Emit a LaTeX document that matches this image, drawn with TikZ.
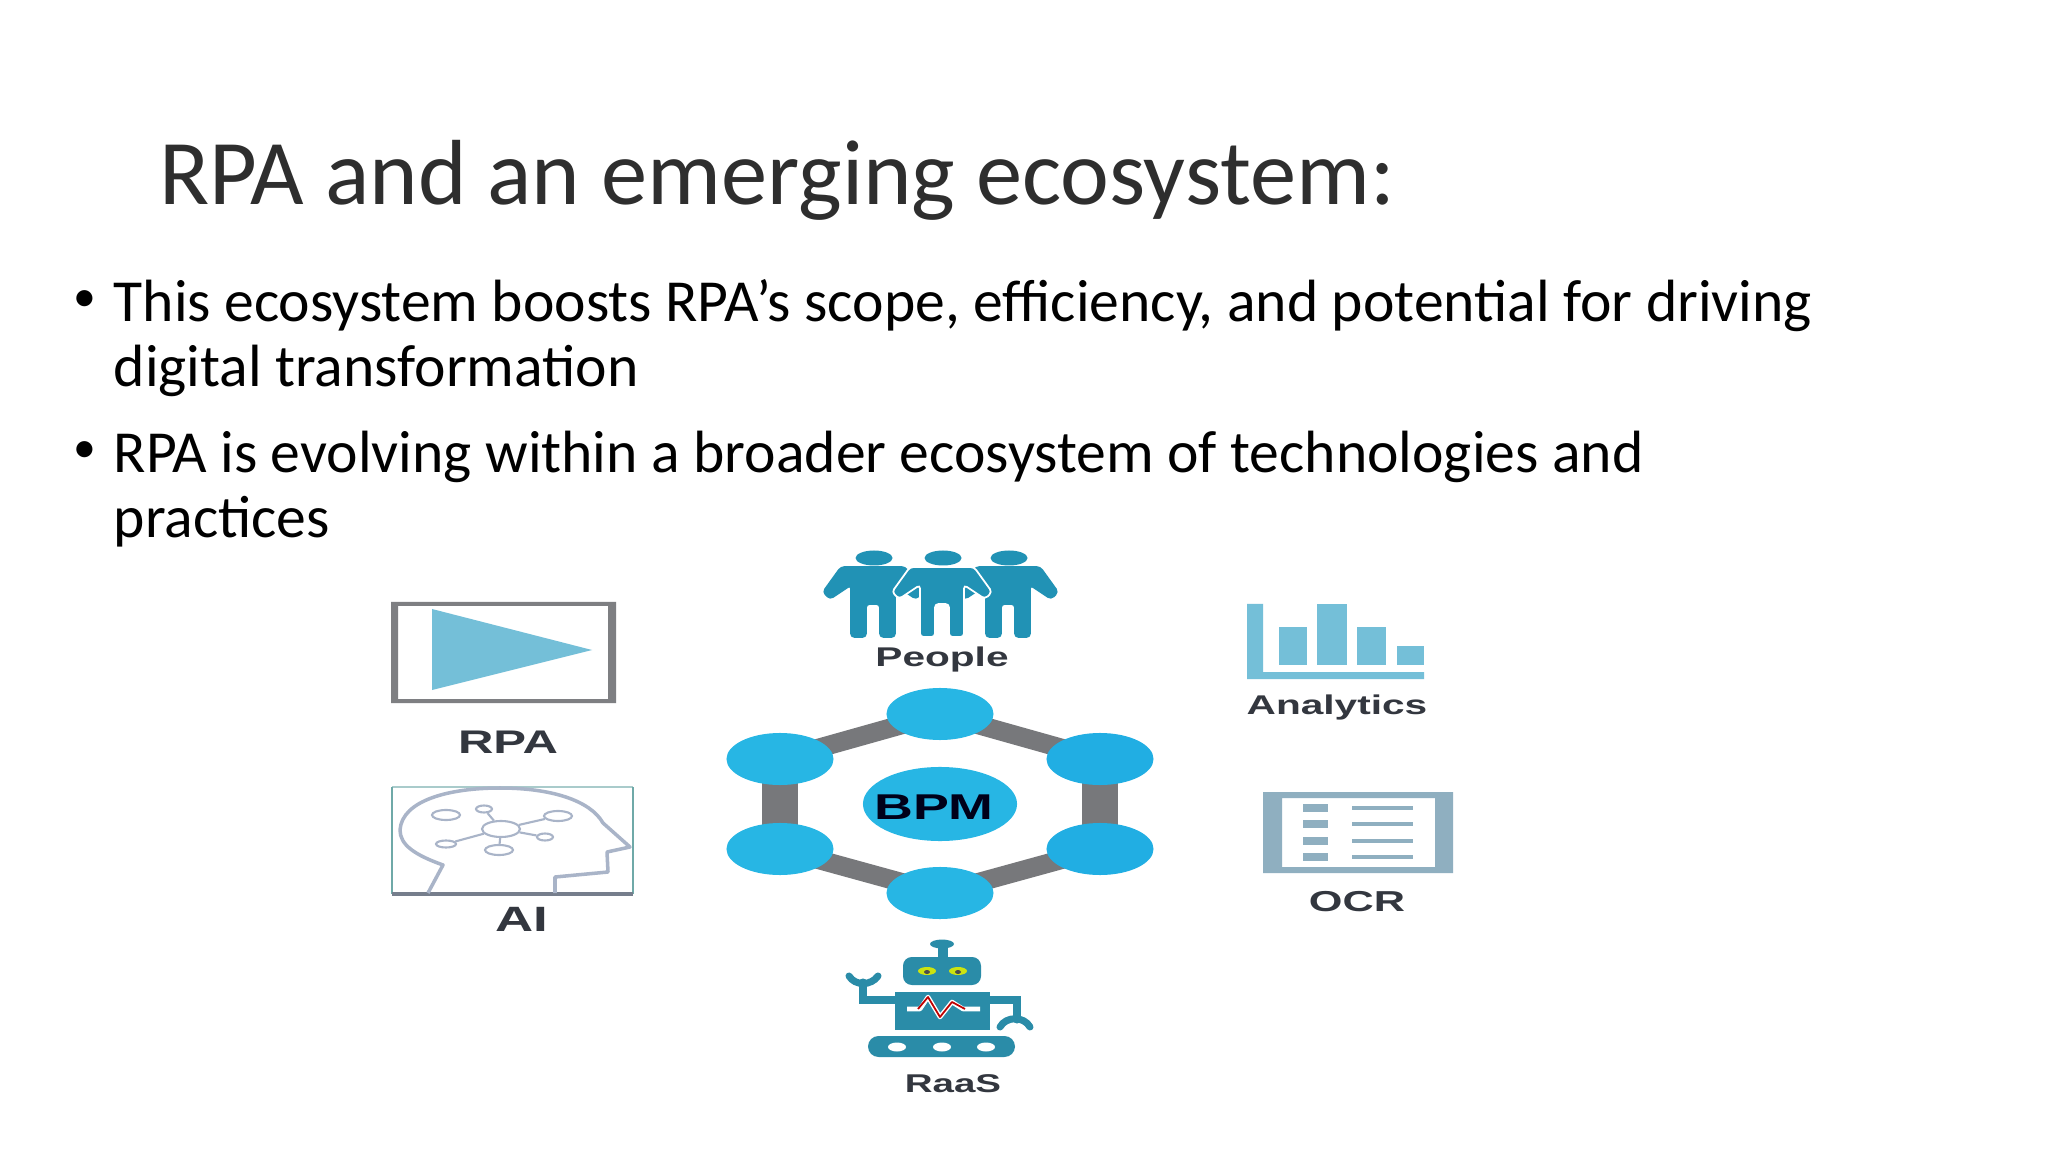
\documentclass[tikz,border=0pt]{standalone}
\usepackage{fontspec}
\setmainfont{Carlito}
\newfontfamily\iconfont[FakeStretch=1.5]{Liberation Sans}
\usetikzlibrary{shapes.geometric,backgrounds}
\definecolor{hexblue}{HTML}{27B6E4}
\definecolor{hexdark}{HTML}{21AEE3}
\definecolor{hexgrey}{HTML}{77787B}
\definecolor{playblue}{HTML}{74BFD8}
\definecolor{peopleblue}{HTML}{2192B5}
\definecolor{robotblue}{HTML}{2A8CA8}
\definecolor{ocrgrey}{HTML}{8FAFC0}
\definecolor{headline}{HTML}{A9B4C8}
\definecolor{aiteal}{HTML}{6FA9A8}
\definecolor{labelgrey}{HTML}{33373F}
\tikzset{
  hexnode/.style={ellipse, fill=hexblue, minimum width=1.07cm, minimum height=0.52cm, inner sep=0pt},
  hexlink/.style={draw=hexgrey, line width=0.19cm},
  hexpost/.style={draw=hexgrey, line width=0.36cm},
  ainode/.style={ellipse, draw=headline, line width=0.6pt, inner sep=0pt},
  ailink/.style={draw=headline, line width=0.6pt},
  iconlabel/.style={text=labelgrey, inner sep=0pt},
  bodytext/.style={anchor=north west, align=left, inner sep=0pt, font=\fontsize{16.96}{18.55}\selectfont},
  bulletdot/.style={inner sep=0pt, font=\fontsize{13}{14}\selectfont}
}
\begin{document}
\begin{tikzpicture}[x=0.01cm,y=-0.01cm]
\useasboundingbox (0,0) rectangle (2048,1152);
\begin{pgfonlayer}{background}
\fill[white] (0,0) rectangle (2048,1152);
\end{pgfonlayer}

\node[anchor=base west, inner sep=0pt, text=black!82, font=\fontsize{26.3}{30}\selectfont] (title) at (159,205) {RPA and an emerging ecosystem:};
\node[bulletdot] (dotone) at (85,301) {•};
\node[bodytext] (bodyone) at (113,279) {This ecosystem boosts RPA’s scope, efficiency, and potential for driving\\digital transformation};
\node[bulletdot] (dottwo) at (85,452) {•};
\node[bodytext] (bodytwo) at (113,430) {RPA is evolving within a broader ecosystem of technologies and\\practices};

\fill[hexgrey!95, even odd rule] (391,602) rectangle (616,703) (398,606) rectangle (608,699);
\fill[playblue] (432,609) -- (592,650) -- (432,690) -- cycle;
\node[iconlabel, font=\iconfont\bfseries\fontsize{9.3}{10}\selectfont] (rpa) at (508,742) {RPA};

\draw[aiteal!60, line width=0.5pt] (392,787) -- (633,787);
\draw[aiteal, line width=0.65pt] (392,787) -- (392,894) (633,787) -- (633,894);
\draw[headline!70!black, line width=0.9pt] (392,894) -- (633,894);
\draw[headline, line width=1pt, line join=round] (428,893) -- (443,865) .. controls (415,855) and (400,845) .. (400,830) .. controls (402,800) and (450,788) .. (500,788) .. controls (550,788) and (590,800) .. (603,823) -- (630,847) -- (607,852) -- (608,872) -- (555,877) -- (555,893);
\node[ainode, minimum width=0.38cm, minimum height=0.16cm] (hub) at (501,829) {};
\node[ainode, minimum width=0.28cm, minimum height=0.10cm] (aia) at (446,815) {};
\node[ainode, minimum width=0.16cm, minimum height=0.07cm] (aib) at (484,809) {};
\node[ainode, minimum width=0.28cm, minimum height=0.10cm] (aic) at (558,816) {};
\node[ainode, minimum width=0.16cm, minimum height=0.07cm] (aid) at (545,837) {};
\node[ainode, minimum width=0.20cm, minimum height=0.07cm] (aie) at (446,844) {};
\node[ainode, minimum width=0.28cm, minimum height=0.10cm] (aif) at (499,850) {};
\draw[ailink] (hub) -- (aib);
\draw[ailink] (hub) -- (aic);
\draw[ailink] (hub) -- (aid);
\draw[ailink] (hub) -- (aie);
\draw[ailink] (hub) -- (aif);
\node[iconlabel, font=\iconfont\bfseries\fontsize{10}{11}\selectfont] (ai) at (522,919) {AI};

\foreach \cx/\rim in {873/peopleblue,1008/peopleblue,942/white}{
  \fill[peopleblue, draw=\rim, line width=0.5pt, rounded corners=1pt] (\cx-32,567) -- (\cx-50,592) -- (\cx-43,599) -- (\cx-22,585) -- (\cx-22,637) -- (\cx-7,637) -- (\cx-7,604) -- (\cx+7,604) -- (\cx+7,637) -- (\cx+22,637) -- (\cx+22,585) -- (\cx+43,599) -- (\cx+50,592) -- (\cx+32,567) -- cycle;
  \fill[peopleblue] (\cx+1,558) ellipse (18.5 and 7.5);
}
\node[iconlabel, font=\iconfont\bfseries\fontsize{7.7}{9}\selectfont] (people) at (942,659) {People};

\node[hexnode] (hta) at (940,714) {};
\node[hexnode, fill=hexdark] (htb) at (1100,759) {};
\node[hexnode, fill=hexdark] (htc) at (1100,849) {};
\node[hexnode] (htd) at (940,893) {};
\node[hexnode] (hte) at (780,849) {};
\node[hexnode] (htf) at (780,759) {};
\node[hexnode, minimum width=1.54cm, minimum height=0.74cm] (bpm) at (940,804) {};
\node[text=black!90!blue, inner sep=0pt, font=\iconfont\bfseries\fontsize{10.2}{11}\selectfont] (bpmtext) at (934,807) {BPM};
\begin{pgfonlayer}{background}
\draw[hexlink] (hta.center) -- (htb.center);
\draw[hexpost] (htb.center) -- (htc.center);
\draw[hexlink] (htc.center) -- (htd.center);
\draw[hexlink] (htd.center) -- (hte.center);
\draw[hexpost] (hte.center) -- (htf.center);
\draw[hexlink] (htf.center) -- (hta.center);
\end{pgfonlayer}

\fill[playblue] (1247,604) -- (1263,604) -- (1263,672) -- (1424,672) -- (1424,679) -- (1247,679) -- cycle;
\fill[playblue] (1279,627) rectangle (1307,665);
\fill[playblue] (1317,604) rectangle (1347,665);
\fill[playblue] (1357,627) rectangle (1386,665);
\fill[playblue] (1397,646) rectangle (1424,665);
\node[iconlabel, font=\iconfont\bfseries\fontsize{7.7}{9}\selectfont] (analytics) at (1337,707) {Analytics};

\fill[ocrgrey, even odd rule] (1263,792) rectangle (1453,873) (1282,798) rectangle (1435,867);
\foreach \ry in {808,824,841,857}{
  \fill[ocrgrey] (1303,\ry-4) rectangle (1328,\ry+4);
  \fill[ocrgrey] (1352,\ry-2) rectangle (1413,\ry+2);
}
\node[iconlabel, font=\iconfont\bfseries\fontsize{8.2}{10}\selectfont] (ocr) at (1357,902) {OCR};

\fill[robotblue] (942,944) ellipse (12 and 4.5);
\fill[robotblue] (938,944) rectangle (948,958);
\fill[robotblue, rounded corners=2.5pt] (903,957) rectangle (981,985);
\fill[yellow!80!green] (927,971) ellipse (9 and 4);
\fill[yellow!80!green] (958,971) ellipse (9 and 4);
\fill[black!70] (927,972) ellipse (3 and 2);
\fill[black!70] (958,972) ellipse (3 and 2);
\fill[robotblue] (895,992) rectangle (990,1030);
\draw[white, line width=1.3pt, line join=round] (907,1009) -- (920,1009) -- (928,997) -- (940,1017) -- (952,1002) -- (963,1009) -- (980,1009);
\draw[red!75!black, line width=0.5pt, line join=round] (918,1009) -- (928,997) -- (940,1017) -- (952,1002) -- (965,1009);
\fill[robotblue, rounded corners=3pt] (868,1036) rectangle (1015,1057);
\foreach \hx in {897,942,986}{
  \fill[white] (\hx,1047) ellipse (9 and 4.5);
}
\draw[robotblue, line width=2pt, line cap=round] (895,1000) -- (863,1000) -- (863,982);
\draw[robotblue, line width=2pt, line cap=round] (849,976) .. controls (855,986) and (871,986) .. (878,976);
\draw[robotblue, line width=2pt, line cap=round] (990,1000) -- (1017,1000) -- (1017,1020);
\draw[robotblue, line width=2pt, line cap=round] (1000,1027) .. controls (1006,1016) and (1024,1016) .. (1030,1027);
\node[iconlabel, font=\iconfont\bfseries\fontsize{7.3}{8}\selectfont] (raas) at (953,1084) {RaaS};
\end{tikzpicture}
\end{document}
